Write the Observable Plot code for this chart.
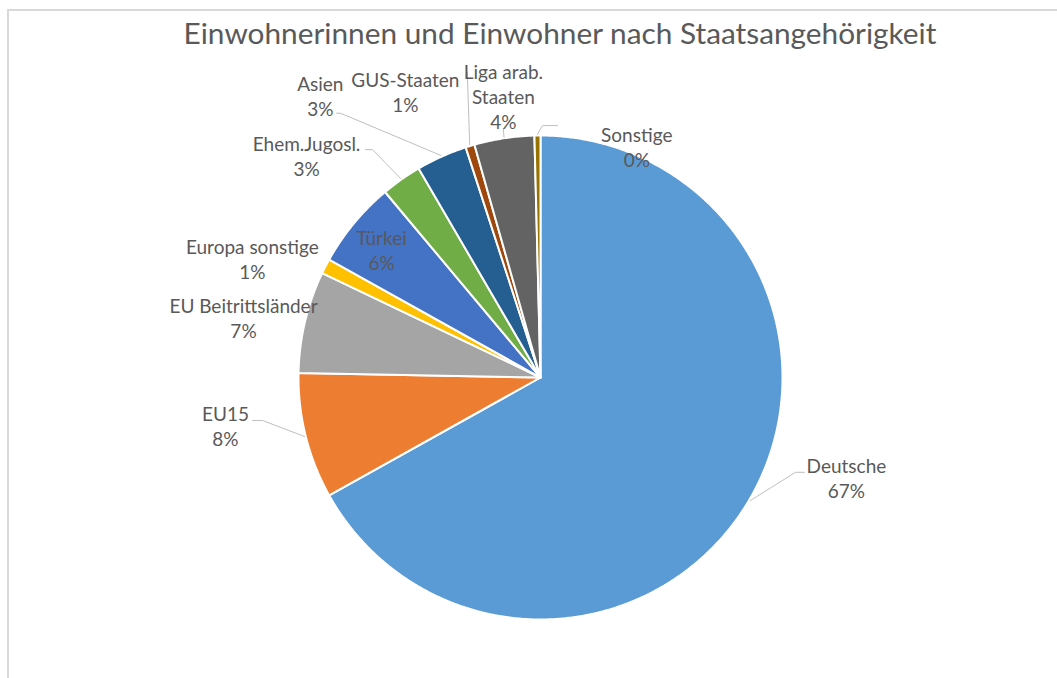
<!DOCTYPE html>
<html>
<head>
<meta charset="utf-8">
<script src="https://cdn.jsdelivr.net/npm/d3@7"></script>
<script src="https://cdn.jsdelivr.net/npm/@observablehq/plot@0.6"></script>
<style>
  html, body { margin: 0; padding: 0; background: #fff; overflow: hidden; }
  #frame { position: absolute; left: 7px; top: 9px; width: 1050px; height: 669px;
           border-top: 2px solid #d9d9d9; border-left: 2px solid #d9d9d9; box-sizing: border-box; z-index: 2; pointer-events: none; }
  #title { position: absolute; top: 18px; left: 560px; transform: translateX(-50%); white-space: nowrap;
           font-family: Lato, "Open Sans", sans-serif; font-size: 29.8px; line-height: 1; color: #595959; }
  #chart { position: absolute; left: 0; top: 63px; }
</style>
</head>
<body>
<div id="frame"></div>
<div id="title">Einwohnerinnen und Einwohner nach Staatsangehörigkeit</div>
<div id="chart"></div>
<script>
// ---- data ----
const categories = ["Deutsche", "EU15", "EU Beitrittsländer", "Europa sonstige", "Türkei",
                    "Ehem.Jugosl.", "Asien", "GUS-Staaten", "Liga arab. Staaten", "Sonstige"];
const labelNames = ["Deutsche", "EU15", "EU Beitrittsländer", "Europa sonstige", "Türkei",
                    "Ehem.Jugosl.", "Asien", "GUS-Staaten", "Liga arab.\nStaaten", "Sonstige"];
const shares = [66.9, 8.4, 6.8, 1.0, 5.8, 2.7, 3.4, 0.6, 4.0, 0.4];
const colors = ["#5B9BD5", "#ED7D31", "#A5A5A5", "#FFC000", "#4472C4",
                "#70AD47", "#255E91", "#9E480E", "#636363", "#997300"];

// ---- layout (label placement in polar terms: degrees clockwise from top, radius multiples) ----
const labelAngle = [108.1, 261.3, 281.4, 292.4, 308.8, 313.5, 322.0, 334.7, 352.5, 22.6];
const labelDist  = [1.33, 1.317, 1.252, 1.288, 0.843, 1.333, 1.478, 1.307, 1.175, 1.035];
const leaderElbow = [[110.4, 1.124, 9], [261.2, 1.162, -10], null, null, null,
                     [323.6, 1.170, -7], [322.9, 1.369, -4], [346.5, 1.296, 0], [351.5, 1.040, 0], [0.45, 1.041, 15]];

const W = 1057, H = 615, R = 242, CX = 540, CY = 314;
const rad = Math.PI / 180;
const polar = (aRad, r) => [r * Math.sin(aRad), r * Math.cos(aRad)];

const total = d3.sum(shares);
const arcs = d3.pie().sort(null).value(d => d)(shares);

// slice polygons
const slicePts = [];
arcs.forEach((a, i) => {
  const name = categories[i];
  slicePts.push({name, x: 0, y: 0});
  const n = Math.max(2, Math.ceil((a.endAngle - a.startAngle) / (0.4 * rad)));
  for (let k = 0; k <= n; k++) {
    const t = a.startAngle + (a.endAngle - a.startAngle) * k / n;
    const [x, y] = polar(t, 1);
    slicePts.push({name, x, y});
  }
});

// labels
const labels = arcs.map((a, i) => {
  const [x, y] = polar(labelAngle[i] * rad, labelDist[i]);
  return {name: categories[i], x, y, text: labelNames[i] + "\n" + Math.round(shares[i] / total * 100) + "%"};
});

// leader lines
const leaderPts = [];
arcs.forEach((a, i) => {
  const le = leaderElbow[i];
  if (!le) return;
  const mid = (a.startAngle + a.endAngle) / 2;
  const [x0, y0] = polar(mid, 1.005);
  const [x1, y1] = polar(le[0] * rad, le[1]);
  leaderPts.push({name: categories[i], x: x0, y: y0});
  leaderPts.push({name: categories[i], x: x1, y: y1});
  if (le[2] !== 0) leaderPts.push({name: categories[i], x: x1 + le[2] / R, y: y1});
});

const chart = Plot.plot({
  width: W,
  height: H,
  margin: 0,
  style: {background: "transparent", overflow: "visible"},
  x: {domain: [-CX / R, (W - CX) / R], axis: null},
  y: {domain: [-(H - CY) / R, CY / R], axis: null},
  color: {domain: categories, range: colors},
  marks: [
    Plot.line(slicePts, {x: "x", y: "y", z: "name", fill: "name", stroke: "white",
                         strokeWidth: 2, strokeLinejoin: "round", curve: "linear-closed"}),
    Plot.line(leaderPts, {x: "x", y: "y", z: "name", stroke: "#bfbfbf", strokeWidth: 1}),
    Plot.text(labels, {x: "x", y: "y", text: "text", fill: "#595959", fontSize: 19,
                       fontFamily: "Lato, 'Open Sans', sans-serif", lineHeight: 1.32,
                       textAnchor: "middle", lineAnchor: "middle"})
  ]
});
document.getElementById("chart").appendChild(chart);
</script>
</body>
</html>
